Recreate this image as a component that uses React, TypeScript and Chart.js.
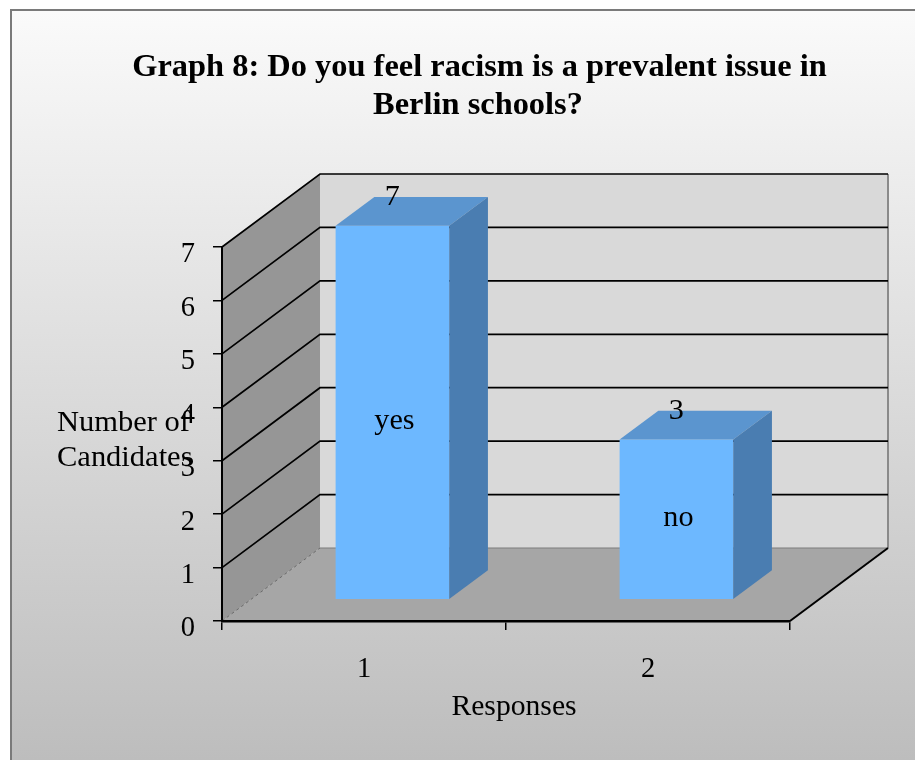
import React, { useEffect, useRef } from "react";
import { Chart, registerables } from "chart.js";

Chart.register(...registerables);

// ---- data ----
const categories = ["1", "2"];
const values = [7, 3];
const barLabels = ["yes", "no"];
const titleLines = ["Graph 8: Do you feel racism is a prevalent issue in", "Berlin schools?"];
const yAxisTitle = ["Number of", "Candidates"];
const xAxisTitle = "Responses";
const yMin = 0;
const yMax = 7;

// ---- style ----
const SERIF = "'Liberation Serif', 'Times New Roman', serif";
const DEPTH = { dx: 98, dy: -73 };
const BAR_FRONT = 0.29;
const BAR_DEPTH = 0.395;
const TEXT_STRETCH = 1.06;
const TITLE_STRETCH = 1.013;
const COLORS = {
  front: "#6db8ff",
  top: "#5b95cf",
  side: "#4a7db1",
  leftWall: "#969696",
  backWall: "#d9d9d9",
  floor: "#a6a6a6",
};

type Pt = [number, number];

function poly(ctx: CanvasRenderingContext2D, pts: Pt[], fill: string) {
  ctx.beginPath();
  ctx.moveTo(pts[0][0], pts[0][1]);
  for (let i = 1; i < pts.length; i++) ctx.lineTo(pts[i][0], pts[i][1]);
  ctx.closePath();
  ctx.fillStyle = fill;
  ctx.fill();
}

function seg(ctx: CanvasRenderingContext2D, pts: Pt[]) {
  ctx.beginPath();
  ctx.moveTo(pts[0][0], pts[0][1]);
  for (let i = 1; i < pts.length; i++) ctx.lineTo(pts[i][0], pts[i][1]);
  ctx.stroke();
}

function text(
  ctx: CanvasRenderingContext2D,
  s: string,
  x: number,
  y: number,
  stretch: number,
  align: CanvasTextAlign,
  baseline: CanvasTextBaseline
) {
  ctx.save();
  ctx.translate(x, y);
  ctx.scale(stretch, 1);
  ctx.textAlign = align;
  ctx.textBaseline = baseline;
  ctx.fillText(s, 0, 0);
  ctx.restore();
}

const scene3d = {
  id: "scene3d",
  beforeDraw(chart: any) {
    const ctx: CanvasRenderingContext2D = chart.ctx;
    const { width, height } = chart;
    ctx.save();
    ctx.fillStyle = "#ffffff";
    ctx.fillRect(0, 0, width, height);
    const g = ctx.createLinearGradient(0, 0, 0, height);
    g.addColorStop(0, "#fbfbfb");
    g.addColorStop(1, "#bdbdbd");
    ctx.fillStyle = g;
    ctx.fillRect(11, 10, width - 11, height - 10);
    ctx.strokeStyle = "#7a7a7a";
    ctx.lineWidth = 2;
    seg(ctx, [[11, height + 5], [11, 10], [width + 5, 10]]);

    // title
    ctx.fillStyle = "#000000";
    ctx.font = `bold 32px ${SERIF}`;
    text(ctx, titleLines[0], 479.5, 75.5, TITLE_STRETCH, "center", "alphabetic");
    text(ctx, titleLines[1], 478, 113.5, TITLE_STRETCH, "center", "alphabetic");

    const ys = chart.scales.y;
    const L = chart.chartArea.left;
    const R = chart.chartArea.right;
    const y0 = ys.getPixelForValue(ys.min);
    const yT = ys.getPixelForValue(ys.max);
    const { dx, dy } = DEPTH;

    poly(ctx, [[L, yT], [L + dx, yT + dy], [L + dx, y0 + dy], [L, y0]], COLORS.leftWall);
    poly(ctx, [[L + dx, yT + dy], [R + dx, yT + dy], [R + dx, y0 + dy], [L + dx, y0 + dy]], COLORS.backWall);
    poly(ctx, [[L, y0], [L + dx, y0 + dy], [R + dx, y0 + dy], [R, y0]], COLORS.floor);

    // back wall right edge
    ctx.strokeStyle = "#8a8a8a";
    ctx.lineWidth = 2;
    seg(ctx, [[R + dx, yT + dy], [R + dx, y0 + dy]]);
    // back wall bottom edge
    ctx.strokeStyle = "#7d7d7d";
    ctx.lineWidth = 1.2;
    seg(ctx, [[L + dx, y0 + dy], [R + dx, y0 + dy]]);
    // floor left edge dashed
    ctx.setLineDash([3, 3]);
    ctx.strokeStyle = "#6a6a6a";
    ctx.lineWidth = 1;
    seg(ctx, [[L, y0], [L + dx, y0 + dy]]);
    ctx.setLineDash([]);

    // gridlines on walls
    ctx.strokeStyle = "#000000";
    ctx.lineWidth = 1.7;
    ys.ticks.forEach((t: any) => {
      if (t.value <= ys.min) return;
      const p = ys.getPixelForValue(t.value);
      seg(ctx, [[L, p], [L + dx, p + dy], [R + dx, p + dy]]);
    });
    // floor right edge
    ctx.lineWidth = 2;
    seg(ctx, [[R, y0], [R + dx, y0 + dy]]);
    ctx.restore();
  },
  beforeDatasetsDraw(chart: any) {
    const ctx: CanvasRenderingContext2D = chart.ctx;
    ctx.save();
    ctx.translate(DEPTH.dx * BAR_FRONT, DEPTH.dy * BAR_FRONT);
  },
  afterDatasetsDraw(chart: any) {
    const ctx: CanvasRenderingContext2D = chart.ctx;
    const meta = chart.getDatasetMeta(0);
    const bx = DEPTH.dx * BAR_DEPTH;
    const by = DEPTH.dy * BAR_DEPTH;
    meta.data.forEach((bar: any, i: number) => {
      const { x, y, base, width } = bar.getProps(["x", "y", "base", "width"], true);
      const l = x - width / 2;
      const r = x + width / 2;
      poly(ctx, [[l, y], [l + bx, y + by], [r + bx, y + by], [r, y]], COLORS.top);
      poly(ctx, [[r, y], [r + bx, y + by], [r + bx, base + by], [r, base]], COLORS.side);
      ctx.fillStyle = "#000000";
      ctx.font = `28.5px ${SERIF}`;
      text(ctx, String(values[i]), x, y + by + 1, TEXT_STRETCH, "center", "middle");
      text(ctx, barLabels[i], x + 2, base - (base - y) * 0.455, TEXT_STRETCH, "center", "alphabetic");
    });
    ctx.restore();

    // axis titles
    ctx.save();
    ctx.fillStyle = "#000000";
    ctx.font = `28.5px ${SERIF}`;
    text(ctx, yAxisTitle[0], 57, 431, 1.07, "left", "alphabetic");
    text(ctx, yAxisTitle[1], 57, 466, 1.07, "left", "alphabetic");
    const xs = chart.scales.x;
    text(ctx, xAxisTitle, (xs.left + xs.right) / 2 + 8, 715, 1.04, "center", "alphabetic");
    ctx.restore();
  },
};

export default function App() {
  const ref = useRef<HTMLCanvasElement>(null);
  useEffect(() => {
    const chart = new Chart(ref.current as HTMLCanvasElement, {
      type: "bar",
      data: {
        labels: categories,
        datasets: [
          {
            label: "Responses",
            data: values,
            backgroundColor: COLORS.front,
            borderWidth: 0,
            barPercentage: 0.4,
            categoryPercentage: 1,
            clip: false as any,
          },
        ],
      },
      options: {
        animation: false,
        responsive: false,
        devicePixelRatio: 1,
        events: [],
        layout: { padding: { left: 169, right: 125, top: 247, bottom: 0 } },
        plugins: {
          legend: { display: false },
          tooltip: { enabled: false },
          title: { display: false },
        },
        scales: {
          x: {
            grid: {
              display: true,
              drawOnChartArea: false,
              drawTicks: true,
              tickLength: 9,
              color: "#000000",
              lineWidth: 1.5,
              offset: true,
            },
            border: { display: true, color: "#000000", width: 2.5 },
            ticks: { color: "#000000", font: { family: SERIF, size: 28.5 }, padding: 22 },
            afterFit: (s: any) => {
              s.height = 139;
            },
          },
          y: {
            min: yMin,
            max: yMax,
            grid: {
              display: true,
              drawOnChartArea: false,
              drawTicks: true,
              tickLength: 9,
              color: "#000000",
              lineWidth: 1.5,
            },
            border: { display: true, color: "#000000", width: 2 },
            ticks: {
              stepSize: 1,
              color: "#000000",
              font: { family: SERIF, size: 28.5 },
              padding: 18,
              labelOffset: 8,
            },
            afterFit: (s: any) => {
              s.width = 53;
            },
          },
        },
      },
      plugins: [scene3d],
    });
    return () => chart.destroy();
  }, []);
  return (
    <div style={{ position: "absolute", left: 0, top: 0, width: 915, height: 760 }}>
      <canvas ref={ref} width={915} height={760} style={{ display: "block", width: 915, height: 760 }} />
    </div>
  );
}
